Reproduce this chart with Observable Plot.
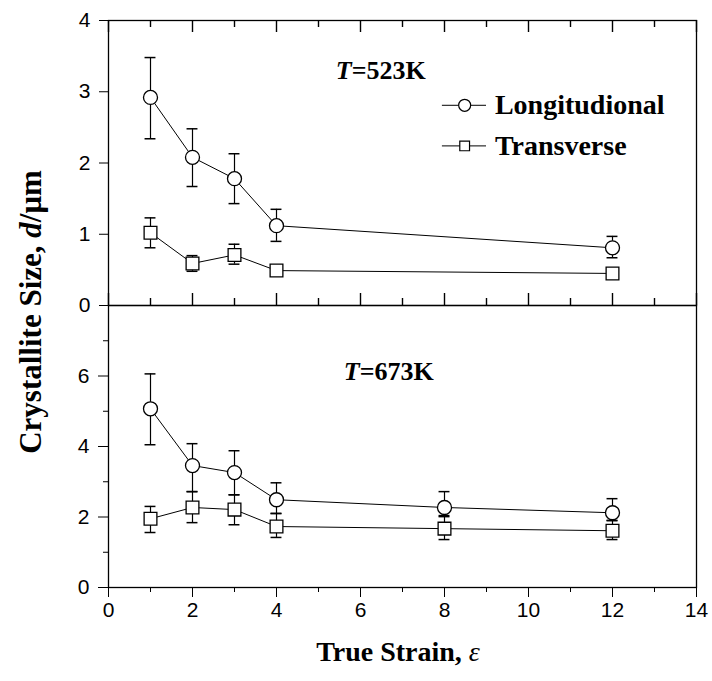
<!DOCTYPE html>
<html><head><meta charset="utf-8">
<script src="https://cdn.jsdelivr.net/npm/d3@7"></script>
<script src="https://cdn.jsdelivr.net/npm/@observablehq/plot@0.6"></script>
<style>
body{margin:0;background:#fff;}
#wrap{position:relative;width:712px;height:681px;overflow:hidden;background:#fff;}
#wrap svg{position:absolute;left:0;}
.lab{position:absolute;font-family:"Liberation Serif","Times New Roman",serif;font-weight:bold;color:#000;white-space:nowrap;line-height:1;}
</style></head><body>
<div id="wrap"></div>
<script>
// ---- data ----
const strain523 = [1, 2, 3, 4, 12];
const long523   = [2.92, 2.08, 1.78, 1.12, 0.81];
const long523Lo = [2.34, 1.67, 1.43, 0.90, 0.67];
const long523Hi = [3.48, 2.48, 2.13, 1.35, 0.97];
const trans523   = [1.02, 0.59, 0.71, 0.49, 0.45];
const trans523Lo = [0.81, 0.48, 0.58, 0.44, 0.42];
const trans523Hi = [1.23, 0.70, 0.86, 0.54, 0.48];

const strain673 = [1, 2, 3, 4, 8, 12];
const long673   = [5.07, 3.46, 3.26, 2.49, 2.27, 2.12];
const long673Lo = [4.05, 2.72, 2.63, 2.10, 2.01, 1.90];
const long673Hi = [6.06, 4.08, 3.88, 2.97, 2.72, 2.52];
const trans673   = [1.95, 2.27, 2.21, 1.73, 1.67, 1.61];
const trans673Lo = [1.56, 1.84, 1.78, 1.42, 1.36, 1.36];
const trans673Hi = [2.30, 2.72, 2.63, 2.10, 2.04, 1.90];

const seriesNames = ["Longitudional", "Transverse"];
const tempLabels = ["523K", "673K"];
const xTicksMajor = [0, 2, 4, 6, 8, 10, 12, 14];
const xTicksMinor = [1, 3, 5, 7, 9, 11, 13];
const yTicksTop = [0, 1, 2, 3, 4];
const yTicksBotMajor = [0, 2, 4, 6];
const yTicksBotMinor = [1, 3, 5, 7];

// ---- helpers ----
function rows(xs, v, lo, hi) { return xs.map((x, i) => ({x, v: v[i], lo: lo[i], hi: hi[i]})); }
const capHalf = 0.13;
const serif = "Liberation Serif, Times New Roman, serif";
const intFmt = d => String(d);

function errMarks(data) {
  return [
    Plot.ruleX(data, {x: "x", y1: "lo", y2: "hi", stroke: "black", strokeWidth: 1.2}),
    Plot.ruleY(data, {x1: d => d.x - capHalf, x2: d => d.x + capHalf, y: "lo", stroke: "black", strokeWidth: 1.5}),
    Plot.ruleY(data, {x1: d => d.x - capHalf, x2: d => d.x + capHalf, y: "hi", stroke: "black", strokeWidth: 1.5})
  ];
}
function lineMark(data) { return Plot.line(data, {x: "x", y: "v", stroke: "black", strokeWidth: 1}); }
function dotMark(data, symbol, r) {
  return Plot.dot(data, {x: "x", y: "v", symbol, r, fill: "white", stroke: "black", strokeWidth: 1.3});
}
function tempMarks(label, x, y) {
  return [
    Plot.text(["T"], {x, y, text: d => d, textAnchor: "end", fontFamily: serif, fontWeight: "bold", fontStyle: "italic", fontSize: 26, fill: "black"}),
    Plot.text([label], {x, y, text: d => "=" + d, textAnchor: "start", fontFamily: serif, fontWeight: "bold", fontSize: 26, fill: "black"})
  ];
}
// inward ticks on the top panel's top and bottom edges, as data-space rules
function inwardTicks(ticks, lenUnits) {
  const rowsT = ticks.map(t => ({t, a: 4, b: 4 - lenUnits}));
  const rowsB = ticks.map(t => ({t, a: 0, b: lenUnits}));
  return [
    Plot.ruleX(rowsT, {x: "t", y1: "a", y2: "b", stroke: "black", strokeWidth: 1.4}),
    Plot.ruleX(rowsB, {x: "t", y1: "a", y2: "b", stroke: "black", strokeWidth: 1.4})
  ];
}
const baseStyle = {background: "transparent", fontFamily: "Liberation Sans, Arial, sans-serif", fontSize: "21px", color: "black", overflow: "visible"};

const L523 = rows(strain523, long523, long523Lo, long523Hi);
const T523 = rows(strain523, trans523, trans523Lo, trans523Hi);
const L673 = rows(strain673, long673, long673Lo, long673Hi);
const T673 = rows(strain673, trans673, trans673Lo, trans673Hi);

const legendY = [2.81, 2.24];
const pxPerUnitTop = 285 / 4;

const topPlot = Plot.plot({
  width: 712, height: 310, marginTop: 20, marginBottom: 5, marginLeft: 108, marginRight: 16,
  x: {domain: [0, 14], axis: null}, y: {domain: [0, 4]},
  style: baseStyle,
  marks: [
    Plot.axisY({ticks: yTicksTop, tickSize: 9, tickPadding: 9, tickFormat: intFmt, label: null}),
    ...inwardTicks(xTicksMajor, 12 / pxPerUnitTop),
    ...inwardTicks(xTicksMinor, 7 / pxPerUnitTop),
    lineMark(L523), lineMark(T523),
    ...errMarks(L523), ...errMarks(T523),
    dotMark(L523, "circle", 7), dotMark(T523, "square", 7.2),
    ...tempMarks(tempLabels[0], 5.79, 3.30),
    // legend
    Plot.ruleY(seriesNames, {y: (d, i) => legendY[i], x1: 7.95, x2: 9.0, stroke: "black", strokeWidth: 1}),
    Plot.dot([seriesNames[0]], {x: 8.48, y: legendY[0], symbol: "circle", r: 6, fill: "white", stroke: "black", strokeWidth: 1.2}),
    Plot.dot([seriesNames[1]], {x: 8.48, y: legendY[1], symbol: "square", r: 5.5, fill: "white", stroke: "black", strokeWidth: 1.2}),
    Plot.text(seriesNames, {x: 9.2, y: (d, i) => legendY[i], text: d => d, textAnchor: "start", fontFamily: serif, fontWeight: "bold", fontSize: 28, fill: "black"}),
    Plot.frame({stroke: "black", strokeWidth: 1.3})
  ]
});
topPlot.style.top = "0px";

const botPlot = Plot.plot({
  width: 712, height: 381, marginTop: 5, marginBottom: 94, marginLeft: 108, marginRight: 16,
  x: {domain: [0, 14]}, y: {domain: [0, 8]},
  style: baseStyle,
  marks: [
    Plot.axisY({ticks: yTicksBotMajor, tickSize: 10, tickPadding: 9, tickFormat: intFmt, label: null}),
    Plot.axisY({ticks: yTicksBotMinor, tickSize: 5, tickFormat: () => "", label: null}),
    Plot.axisX({ticks: xTicksMajor, tickSize: 10, tickPadding: 5, tickFormat: intFmt, label: null}),
    Plot.axisX({ticks: xTicksMinor, tickSize: 5, tickFormat: () => "", label: null}),
    lineMark(L673), lineMark(T673),
    ...errMarks(L673), ...errMarks(T673),
    dotMark(L673, "circle", 7), dotMark(T673, "square", 7.2),
    ...tempMarks(tempLabels[1], 5.98, 6.12),
    Plot.frame({stroke: "black", strokeWidth: 1.3})
  ]
});
botPlot.style.top = "300px";

const wrap = document.getElementById("wrap");
wrap.appendChild(topPlot);
wrap.appendChild(botPlot);

// axis titles
const yl = document.createElement("div");
yl.className = "lab";
yl.style.fontSize = "31px";
yl.innerHTML = "Crystallite Size, <i>d</i>/\u03bcm";
yl.style.left = "30px"; yl.style.top = "312px";
yl.style.transform = "translate(-50%,-50%) rotate(-90deg)";
wrap.appendChild(yl);

const xl = document.createElement("div");
xl.className = "lab";
xl.style.fontSize = "28px";
xl.innerHTML = "True Strain, <i style=\"font-weight:normal\">\u03b5</i>";
xl.style.left = "398px"; xl.style.top = "652px";
xl.style.transform = "translate(-50%,-50%)";
wrap.appendChild(xl);
</script>
</body></html>
